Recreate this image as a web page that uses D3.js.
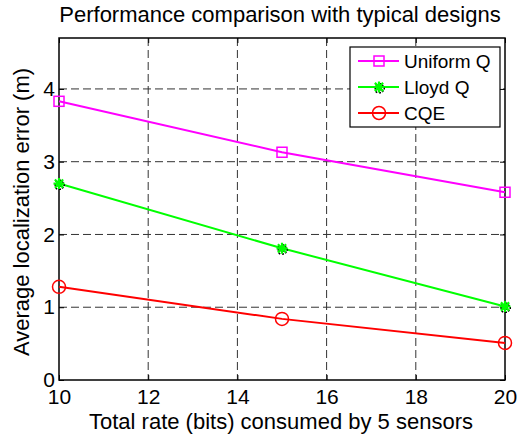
<!DOCTYPE html>
<html>
<head>
<meta charset="utf-8">
<script src="https://cdn.jsdelivr.net/npm/d3@7"></script>
<style>
  body { margin: 0; background: #fff; }
  text { font-family: "Liberation Sans", Arial, sans-serif; fill: #000; }
  .grid line { stroke: #333; stroke-dasharray: 8,4; stroke-width: 1; }
</style>
</head>
<body>
<svg width="529" height="435"></svg>
<script>
const rates = [10, 15, 20]
const uniformQ = [3.83, 3.13, 2.58]
const lloydQ = [2.70, 1.81, 1.01]
const cqe = [1.28, 0.84, 0.51]
const xTicks = [10, 12, 14, 16, 18, 20]
const yTicks = [0, 1, 2, 3, 4]
const seriesNames = ["Uniform Q", "Lloyd Q", "CQE"]

const svg = d3.select("svg"),
      margin = {top: 38, right: 24, bottom: 55, left: 59},
      width = svg.attr("width") - margin.left - margin.right,
      height = svg.attr("height") - margin.top - margin.bottom,
      g = svg.append("g").attr("transform", "translate(" + margin.left + "," + margin.top + ")")

const x = d3.scaleLinear().domain([10, 20]).range([0, width]),
      y = d3.scaleLinear().domain([0, 4.7]).range([height, 0]),
      colors = d3.scaleOrdinal().domain(seriesNames).range(["#ff00ff", "#00ff00", "#ff0000"]),
      markers = d3.scaleOrdinal().domain(seriesNames).range(["square", "star", "circle"])

const series = [uniformQ, lloydQ, cqe].map((vals, i) => ({
  id: seriesNames[i],
  values: rates.map((r, j) => ({rate: r, value: vals[j]}))
}))

const line = d3.line().x(d => x(d.rate)).y(d => y(d.value))

// grid
g.append("g").attr("class", "grid")
  .selectAll("line").data(xTicks.slice(1, -1)).enter().append("line")
    .attr("x1", d => x(d)).attr("x2", d => x(d)).attr("y1", 0).attr("y2", height)
g.append("g").attr("class", "grid")
  .selectAll("line").data(yTicks.slice(1)).enter().append("line")
    .attr("x1", 0).attr("x2", width).attr("y1", d => y(d)).attr("y2", d => y(d))

// axes, ticks pointing inward
const axFont = a => a.attr("font-size", null).attr("font-family", null)
  .selectAll("text").style("font-size", "21px")
g.append("g").attr("transform", "translate(0," + height + ")")
  .call(d3.axisBottom(x).tickValues(xTicks).tickSize(-5).tickPadding(9).tickFormat(d3.format("d")))
  .call(axFont).call(a => a.select(".domain").remove())
g.append("g")
  .call(d3.axisTop(x).tickValues(xTicks).tickSize(-5).tickFormat(""))
  .call(a => a.select(".domain").remove())
g.append("g")
  .call(d3.axisLeft(y).tickValues(yTicks).tickSize(-5).tickPadding(4).tickFormat(d3.format("d")))
  .call(axFont).call(a => a.select(".domain").remove())
g.append("g").attr("transform", "translate(" + width + ",0)")
  .call(d3.axisRight(y).tickValues(yTicks).tickSize(-5).tickFormat(""))
  .call(a => a.select(".domain").remove())
g.selectAll(".tick line").attr("stroke", "#000")

g.append("rect")
  .attr("width", width).attr("height", height)
  .attr("fill", "none").attr("stroke", "#000").attr("stroke-width", 1.5)

function drawMarker(sel, kind, color) {
  if (kind === "square") {
    sel.append("rect").attr("x", -5).attr("y", -5).attr("width", 10).attr("height", 10)
      .attr("fill", "none").attr("stroke", color).attr("stroke-width", 1.5)
  } else if (kind === "circle") {
    sel.append("circle").attr("r", 6.5).attr("fill", "none").attr("stroke", color).attr("stroke-width", 1.5)
  } else {
    const r = 5.5
    const p = "M" + (-r) + ",0L" + r + ",0M0," + (-r) + "L0," + r +
      "M" + (-r * 0.75) + "," + (-r * 0.75) + "L" + (r * 0.75) + "," + (r * 0.75) +
      "M" + (-r * 0.75) + "," + (r * 0.75) + "L" + (r * 0.75) + "," + (-r * 0.75)
    sel.append("path").attr("d", p).attr("transform", "translate(1,1.5)")
      .attr("stroke", "#000").attr("stroke-width", 2).attr("stroke-dasharray", "1.5,1.5")
    sel.append("path").attr("d", p).attr("stroke", color).attr("stroke-width", 2.2)
  }
}

const lines = g.selectAll(".series").data(series).enter().append("g").attr("class", "series")
lines.append("path")
  .attr("d", d => line(d.values))
  .attr("fill", "none").attr("stroke", d => colors(d.id)).attr("stroke-width", 2)
lines.each(function (s) {
  d3.select(this).selectAll(".pt").data(s.values).enter().append("g")
    .attr("transform", d => "translate(" + x(d.rate) + "," + y(d.value) + ")")
    .each(function () { drawMarker(d3.select(this), markers(s.id), colors(s.id)) })
})

// legend
const legend = svg.append("g").attr("transform", "translate(350,47)")
legend.append("rect").attr("width", 150).attr("height", 80)
  .attr("fill", "#fff").attr("stroke", "#000").attr("stroke-width", 1.2)
const items = legend.selectAll(".item").data(seriesNames).enter().append("g")
  .attr("transform", (d, i) => "translate(0," + (14 + i * 26) + ")")
items.append("line").attr("x1", 8).attr("x2", 49)
  .attr("stroke", d => colors(d)).attr("stroke-width", 2)
items.append("g").attr("transform", "translate(29,0)")
  .each(function (d) { drawMarker(d3.select(this), markers(d), colors(d)) })
items.append("text").attr("x", 54).attr("y", 7).style("font-size", "19px").text(d => d)

// titles
svg.append("text").attr("x", margin.left + width / 2 - 2).attr("y", 22)
  .attr("text-anchor", "middle").style("font-size", "22px")
  .text("Performance comparison with typical designs")
svg.append("text").attr("x", margin.left + width / 2 - 1).attr("y", 429)
  .attr("text-anchor", "middle").style("font-size", "22px")
  .text("Total rate (bits) consumed by 5 sensors")
svg.append("text").attr("transform", "translate(29," + (margin.top + height / 2 + 3) + ") rotate(-90)")
  .attr("text-anchor", "middle").style("font-size", "22px")
  .text("Average localization error (m)")
</script>
</body>
</html>
